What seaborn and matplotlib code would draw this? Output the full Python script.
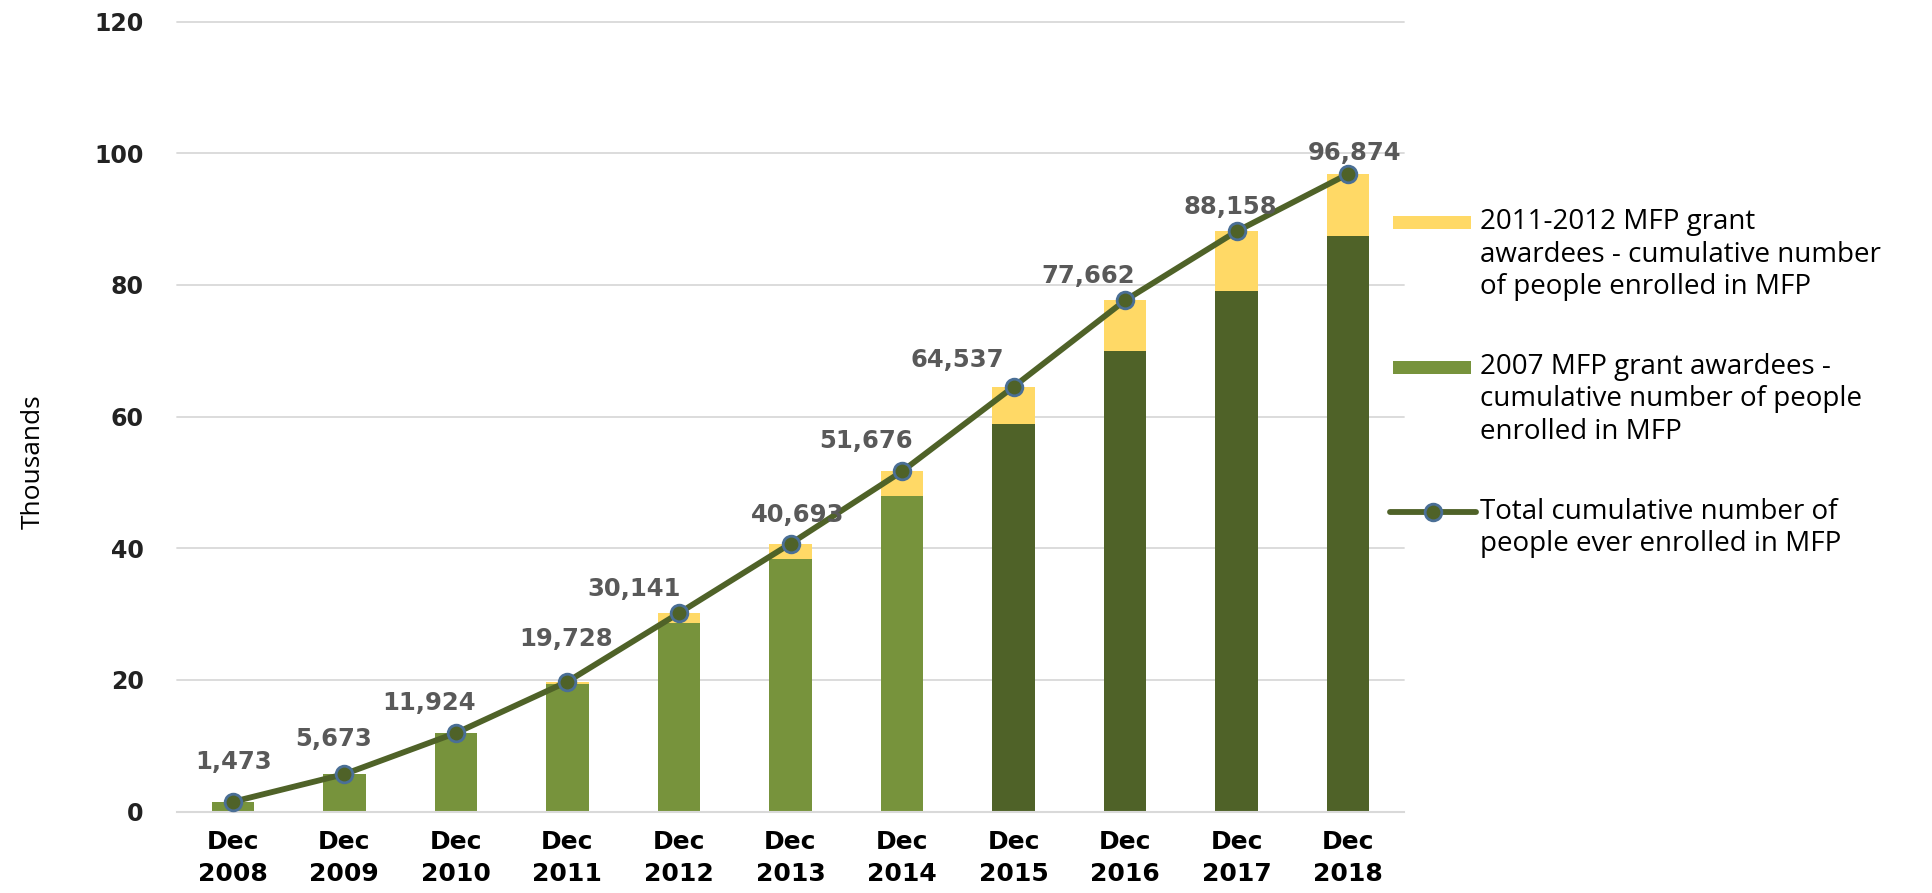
import numpy as np
import pandas as pd
import matplotlib
matplotlib.use("Agg")
import matplotlib.pyplot as plt
from matplotlib.patches import Rectangle
from matplotlib.lines import Line2D
import seaborn as sns

# ---------------- data ----------------
categories = ["Dec\n2008", "Dec\n2009", "Dec\n2010", "Dec\n2011", "Dec\n2012", "Dec\n2013",
              "Dec\n2014", "Dec\n2015", "Dec\n2016", "Dec\n2017", "Dec\n2018"]
total_people = [1473, 5673, 11924, 19728, 30141, 40693, 51676, 64537, 77662, 88158, 96874]
grant2007_thousands = [1.473, 5.673, 11.924, 19.4, 28.7, 38.4, 48.0, 58.8, 70.0, 79.1, 87.5]
yticks = [0, 20, 40, 60, 80, 100, 120]
legend_labels = [
    "2011-2012 MFP grant\nawardees - cumulative number\nof people enrolled in MFP",
    "2007 MFP grant awardees -\ncumulative number of people\nenrolled in MFP",
    "Total cumulative number of\npeople ever enrolled in MFP",
]
y_label = "Thousands"

# ---------------- style ----------------
YELLOW = "#FFD966"
LIGHT_GREEN = "#77933C"
DARK_GREEN = "#4F6228"
LINE_COLOR = "#4F6228"
MARKER_EDGE = "#4A6F96"
LABEL_GRAY = "#595959"
GRID = "#D9D9D9"
bar_colors = [LIGHT_GREEN] * 7 + [DARK_GREEN] * 4
# data label offsets in pixels (dx, dy)
label_offsets = [(1, 40), (-11, 35), (-27, 30), (-1, 43), (-45, 24), (7, 29),
                 (-36, 30), (-56, 27), (-37, 24), (-6, 24), (6, 21)]

sns.set_theme(style="white")
plt.rcParams["font.family"] = ["DejaVu Sans"]

W, H = 1933, 893
fig = plt.figure(figsize=(W / 100, H / 100), dpi=100)
fig.patch.set_facecolor("white")
ax = fig.add_axes([177 / W, (H - 811.5) / H, 1227 / W, 789.8 / H])

total_k = [v / 1000 for v in total_people]
df = pd.DataFrame({"cat": categories, "total": total_k, "g2007": grant2007_thousands})

# yellow = total, overdrawn by 2007 awardees part
sns.barplot(data=df, x="cat", y="total", order=categories, color=YELLOW,
            width=0.38, saturation=1, ax=ax, linewidth=0)
sns.barplot(data=df, x="cat", y="g2007", order=categories, hue="cat",
            palette=bar_colors, width=0.38, saturation=1, ax=ax, legend=False, linewidth=0)

xs = np.arange(len(categories))
sns.lineplot(x=xs, y=total_k, ax=ax, color=LINE_COLOR, lw=4.2, marker="o",
             markersize=12, markerfacecolor=DARK_GREEN, markeredgecolor=MARKER_EDGE,
             markeredgewidth=2.0, zorder=5)

for i, (v, (dx, dy)) in enumerate(zip(total_people, label_offsets)):
    ax.annotate(f"{v:,}", (i, total_k[i]), xytext=(dx, dy), textcoords="offset pixels",
                ha="center", va="center", fontsize=17.5, fontweight="bold",
                color=LABEL_GRAY, zorder=6)

ax.set_xlim(-0.5, len(categories) - 0.5)
ax.set_ylim(0, 120)
ax.set_yticks(yticks)
ax.set_yticklabels([str(t) for t in yticks], fontsize=17, fontweight="bold", color="#222222")
ax.set_xticks(xs)
ax.set_xticklabels(categories, fontsize=18, fontweight="bold", color="black", linespacing=1.45)
ax.tick_params(axis="y", length=0, pad=24)
ax.tick_params(axis="x", length=0, pad=13)
ax.set_xlabel("")
ax.set_ylabel("")
ax.yaxis.grid(True, color=GRID, lw=1.3)
ax.set_axisbelow(True)
for s in ["top", "right", "left"]:
    ax.spines[s].set_visible(False)
ax.spines["bottom"].set_color(GRID)
ax.spines["bottom"].set_linewidth(1.5)
for gl in ax.get_ygridlines():
    gl.set_clip_on(False)

# y label
fig.text(33 / W, (H - 462) / H, y_label, rotation=90, ha="center", va="center",
         fontsize=19, family="Open Sans", color="black")

# ---------------- legend (manual, Excel-like) ----------------
def fx(px):
    return px / W

def fy(py):
    return (H - py) / H

leg_font = dict(fontsize=20, family="Open Sans", color="black")
line_gap = 32.5
entry_y = [222, 367, 512]
text_x = 1480

fig.add_artist(Rectangle((fx(1393), fy(222 + 6.5)), 78 / W, 13 / H, transform=fig.transFigure,
                         facecolor=YELLOW, edgecolor="none"))
fig.add_artist(Rectangle((fx(1393), fy(367 + 6.5)), 78 / W, 13 / H, transform=fig.transFigure,
                         facecolor=LIGHT_GREEN, edgecolor="none"))
fig.add_artist(Line2D([fx(1390), fx(1476)], [fy(512), fy(512)], transform=fig.transFigure,
                      color=LINE_COLOR, lw=4.2))
fig.add_artist(Line2D([fx(1433)], [fy(512)], transform=fig.transFigure, marker="o",
                      markersize=12, markerfacecolor=DARK_GREEN, markeredgecolor=MARKER_EDGE,
                      markeredgewidth=2.0, lw=0))

for lbl, y0 in zip(legend_labels, entry_y):
    for k, line in enumerate(lbl.split("\n")):
        fig.text(fx(text_x), fy(y0 + k * line_gap), line, ha="left", va="center", **leg_font)

fig.savefig("out.png", dpi=100, facecolor="white")
